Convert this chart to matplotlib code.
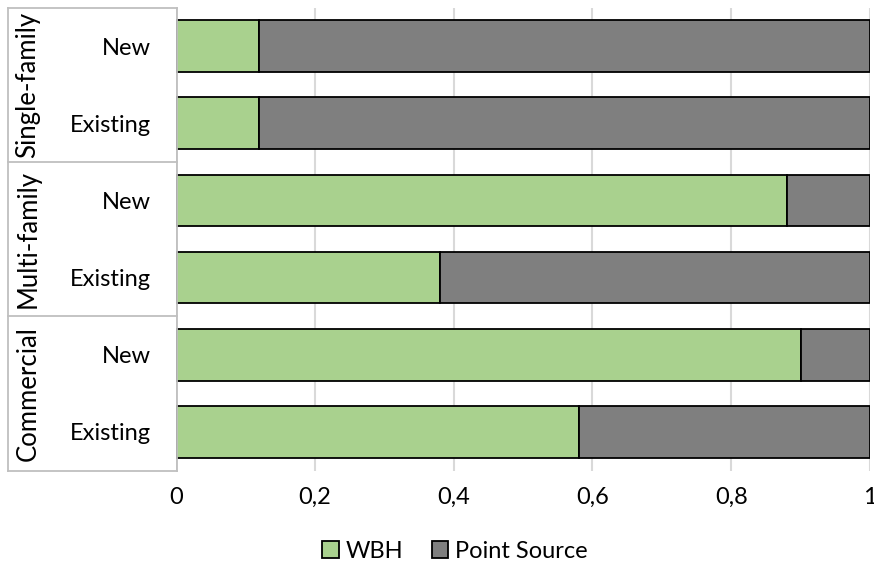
import matplotlib.pyplot as plt
import matplotlib.transforms as mtransforms
from matplotlib.lines import Line2D
from matplotlib.patches import Patch

plt.rcParams['font.family'] = ['Lato', 'DejaVu Sans']

# data (top to bottom)
groups = ['Single-family', 'Multi-family', 'Commercial']
sub_labels = ['New', 'Existing', 'New', 'Existing', 'New', 'Existing']
wbh = [0.12, 0.12, 0.88, 0.38, 0.90, 0.58]
point_source = [1 - v for v in wbh]

green = '#a9d18e'
grey = '#7f7f7f'
fs = 17

fig = plt.figure(figsize=(8.74, 5.67), dpi=100)
W, H = 874, 567
ax = fig.add_axes([176 / W, 1 - 470.5 / H, 694 / W, 463 / H])

ypos = list(range(len(wbh)))
ax.barh(ypos, wbh, height=0.67, color=green, edgecolor='black', linewidth=1.3, zorder=3)
ax.barh(ypos, point_source, left=wbh, height=0.67, color=grey, edgecolor='black', linewidth=1.3, zorder=3)

ax.set_xlim(0, 1)
ax.set_ylim(len(wbh) - 0.5, -0.5)
ax.set_xticks([0, 0.2, 0.4, 0.6, 0.8, 1.0])
ax.set_xticklabels(['0', '0,2', '0,4', '0,6', '0,8', '1'], fontsize=fs)
ax.set_yticks(ypos)
ax.set_yticklabels(sub_labels, fontsize=fs)
ax.tick_params(axis='y', length=0, pad=18)
ax.tick_params(axis='x', length=0, pad=12)
ax.grid(axis='x', color='#d9d9d9', linewidth=1.5, zorder=0)
for s in ax.spines.values():
    s.set_visible(False)

# group label box
trans = mtransforms.blended_transform_factory(fig.transFigure, ax.transData)
x0, x1 = 8 / W, 177 / W
box_kw = dict(color='#bfbfbf', linewidth=1.3, transform=trans, clip_on=False)
for b in [-0.5, 1.5, 3.5, 5.5]:
    fig.add_artist(Line2D([x0, x1], [b, b], **box_kw))
fig.add_artist(Line2D([x0, x0], [-0.5, 5.5], **box_kw))
fig.add_artist(Line2D([x1, x1], [-0.5, 5.5], **box_kw))
for i, g in enumerate(groups):
    fig.text(28 / W, 2 * i + 0.5, g, rotation=90, ha='center', va='center',
             fontsize=18.5, transform=trans)

handles = [Patch(facecolor=green, edgecolor='black', linewidth=1.3, label='WBH'),
           Patch(facecolor=grey, edgecolor='black', linewidth=1.3, label='Point Source')]
fig.legend(handles=handles, loc='center', bbox_to_anchor=(455 / W, 1 - 551 / H),
           ncol=2, frameon=False, fontsize=fs, handlelength=0.7, handleheight=0.7,
           handletextpad=0.3, columnspacing=1.2, borderpad=0)

fig.savefig('out.png', dpi=100)
